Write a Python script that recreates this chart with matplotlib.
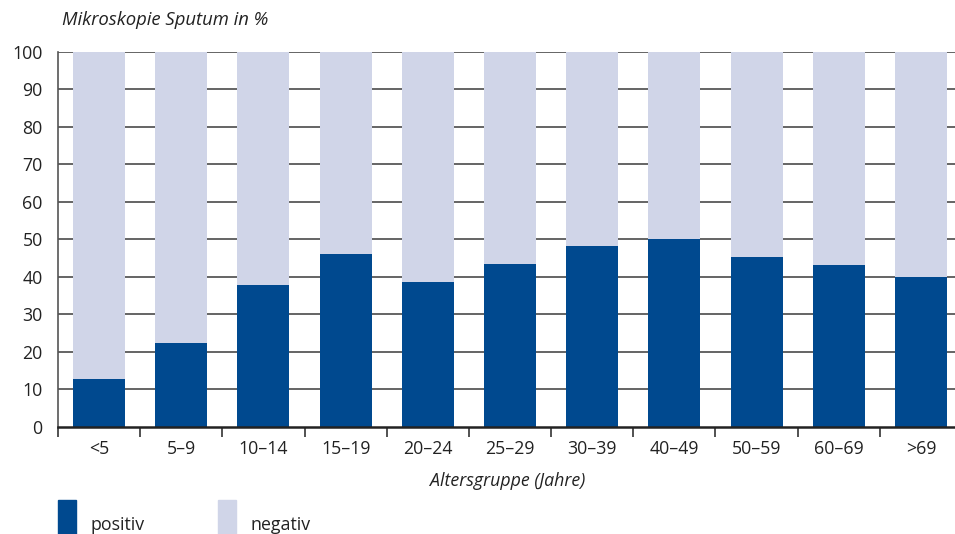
import matplotlib
matplotlib.use("Agg")
import matplotlib.pyplot as plt
import numpy as np

# Mikroskopie Sputum, Anteil positiv/negativ je Altersgruppe
groups = ["<5", "5–9", "10–14", "15–19", "20–24", "25–29",
          "30–39", "40–49", "50–59", "60–69", ">69"]
positiv = [12.6, 22.4, 37.7, 46.2, 38.6, 43.5, 48.2, 50.0, 45.4, 43.2, 39.9]
negativ = [100 - p for p in positiv]
yticks = [0, 10, 20, 30, 40, 50, 60, 70, 80, 90, 100]

c_pos = "#00498f"
c_neg = "#d0d5e8"
grid_c = "#3a3a3a"
fs = 12.8

plt.rcParams['font.family'] = ['Open Sans', 'DejaVu Sans']

fig = plt.figure(figsize=(9.55, 5.34), dpi=100)
ax = fig.add_axes([58/955, 107.4/534, 904/955, 374.6/534])

x = np.arange(len(groups)) + 0.5
w = 52/82.2
ax.bar(x, positiv, width=w, color=c_pos, zorder=3)
ax.bar(x, negativ, width=w, bottom=positiv, color=c_neg, zorder=3)

ax.set_xlim(0, len(groups))
ax.set_ylim(0, 100)
ax.set_yticks(yticks)
ax.set_yticklabels([str(t) for t in yticks], fontsize=fs, color="#222222")
for t in yticks[1:]:
    ax.axhline(t, color=grid_c, lw=1.1, zorder=1)

ax.set_xticks(np.arange(len(groups) + 1))
ax.set_xticklabels([])
ax.set_xticks(x, minor=True)
ax.set_xticklabels(groups, minor=True, fontsize=fs, color="#222222")
ax.tick_params(axis="x", which="major", length=7, width=1.1, color="#222222")
ax.tick_params(axis="x", which="minor", length=0, pad=10)
ax.tick_params(axis="y", length=0, pad=11)

for s in ["top", "right"]:
    ax.spines[s].set_visible(False)
ax.spines["left"].set_color("#555555")
ax.spines["left"].set_linewidth(1.2)
ax.spines["bottom"].set_color("#222222")
ax.spines["bottom"].set_linewidth(1.8)
ax.spines["bottom"].set_zorder(4)

ax.set_xlabel("Altersgruppe (Jahre)", fontsize=fs, style="italic",
              color="#222222")
ax.xaxis.set_label_coords(450/904, -45/374.6)

fig.text(62/955, 1 - 20/534, "Mikroskopie Sputum in %", fontsize=13.3,
         style="italic", color="#222222", va="center", ha="left")

# legend squares and labels
fig.patches.append(plt.Rectangle((58/955, 0), 18/955, 34/534, color=c_pos,
                                 transform=fig.transFigure, figure=fig))
fig.patches.append(plt.Rectangle((218/955, 0), 18/955, 34/534, color=c_neg,
                                 transform=fig.transFigure, figure=fig))
fig.text(90/955, 1 - 525/534, "positiv", fontsize=fs, color="#222222",
         va="center", ha="left")
fig.text(250/955, 1 - 525/534, "negativ", fontsize=fs, color="#222222",
         va="center", ha="left")

fig.savefig("out.png", dpi=100)
